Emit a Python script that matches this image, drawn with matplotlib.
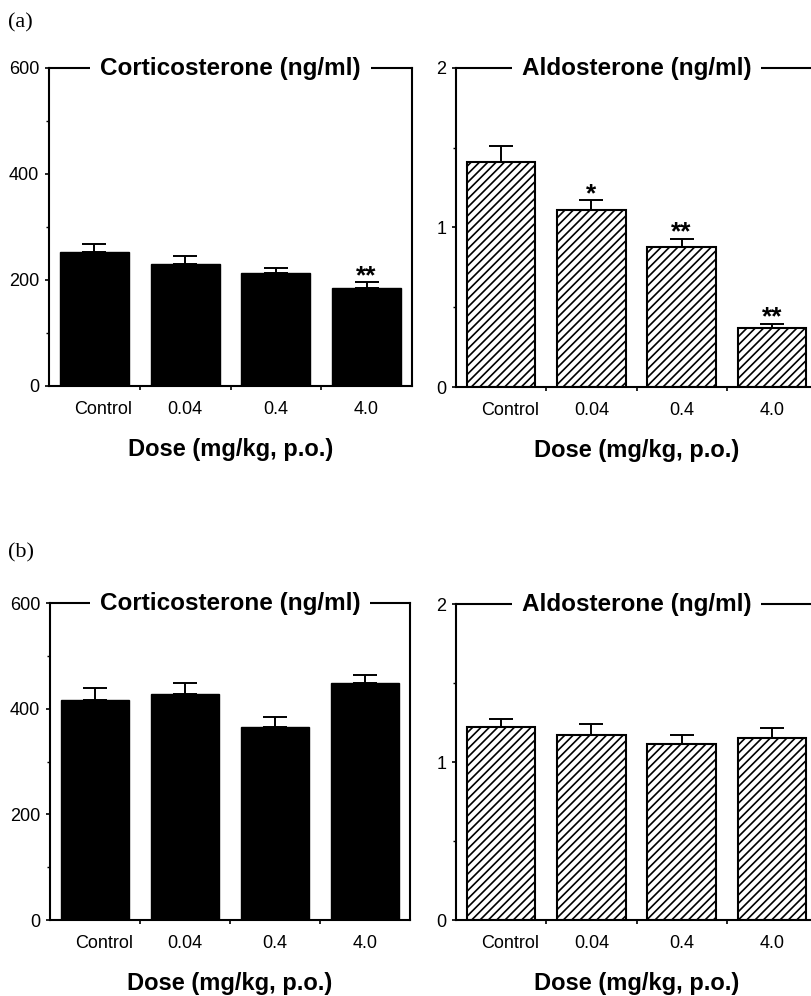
import matplotlib
matplotlib.use("Agg")
import matplotlib.pyplot as plt
from matplotlib.ticker import MultipleLocator

plt.rcParams["font.family"] = ["Liberation Sans", "DejaVu Sans"]
plt.rcParams["hatch.linewidth"] = 1.2

doses = ["Control", "0.04", "0.4", "4.0"]

# panel (a)
cort_a = [253, 231, 214, 184]
cort_a_err = [14, 14, 8, 12]
cort_a_sig = ["", "", "", "**"]
aldo_a = [1.41, 1.11, 0.88, 0.37]
aldo_a_err = [0.10, 0.06, 0.05, 0.025]
aldo_a_sig = ["", "*", "**", "**"]

# panel (b)
cort_b = [416, 428, 366, 449]
cort_b_err = [23, 20, 18, 15]
aldo_b = [1.22, 1.17, 1.115, 1.15]
aldo_b_err = [0.055, 0.07, 0.055, 0.063]

W, H = 811, 996
fig = plt.figure(figsize=(W / 100, H / 100), dpi=100)


def box(x0, y0, x1, y1):
    # pixel box (top-left origin) -> figure fraction rect
    return [x0 / W, 1 - y1 / H, (x1 - x0) / W, (y1 - y0) / H]


def panel(rect, vals, errs, sig, title, ymax, major, minor, hatched):
    ax = fig.add_axes(rect)
    x = list(range(len(vals)))
    if hatched:
        ax.bar(x, vals, width=0.76, color="white", edgecolor="black",
               linewidth=1.5, hatch="////", zorder=2)
    else:
        ax.bar(x, vals, width=0.76, color="black", edgecolor="black",
               linewidth=1.0, zorder=2)
    ax.errorbar(x, vals, yerr=[[0] * len(errs), errs], fmt="none",
                ecolor="black", elinewidth=1.4, capsize=8.5, capthick=1.4, zorder=1)
    for i, s in enumerate(sig):
        if s:
            # asterisks sit high in the em box, so pull the baseline down a bit
            ax.annotate(s, (i, vals[i] + errs[i]), xytext=(0, -0.5),
                        textcoords="offset points", ha="center", va="baseline",
                        fontsize=19, fontweight="bold")
    ax.set_xlim(-0.5, len(vals) - 0.5)
    ax.set_ylim(0, ymax)
    ax.yaxis.set_major_locator(MultipleLocator(major))
    ax.yaxis.set_minor_locator(MultipleLocator(minor))
    ax.yaxis.set_major_formatter(plt.FuncFormatter(lambda v, p: f"{v:g}"))
    ax.set_xticks([0.5, 1.5, 2.5])
    ax.set_xticklabels([])
    # the "Control" label sits a little right of its bar in the original
    label_pos = [i + (0.1 if i == 0 else 0) for i in x]
    ax.set_xticks(label_pos, minor=True)
    ax.set_xticklabels(doses, minor=True, fontsize=13)
    ax.tick_params(axis="x", which="minor", length=0, pad=11)
    ax.tick_params(axis="x", which="major", length=3, width=1.2, direction="out")
    ax.tick_params(axis="y", which="major", length=3, width=1.2, labelsize=13, pad=4)
    ax.tick_params(axis="y", which="minor", length=2, width=1.0)
    for sp in ax.spines.values():
        sp.set_linewidth(1.5)
    ax.text(0.5, 1.0, title, transform=ax.transAxes, ha="center", va="center",
            fontsize=17.5, fontweight="bold", zorder=10, clip_on=False,
            bbox=dict(facecolor="white", edgecolor="none", pad=7))
    ax.set_xlabel("Dose (mg/kg, p.o.)", fontsize=17, fontweight="bold", labelpad=14)
    return ax


panel(box(49, 68, 412, 386), cort_a, cort_a_err, cort_a_sig,
      "Corticosterone (ng/ml)", 600, 200, 100, False)
panel(box(456, 68, 817, 387), aldo_a, aldo_a_err, aldo_a_sig,
      "Aldosterone (ng/ml)", 2, 1, 0.5, True)
panel(box(50, 603, 410, 920), cort_b, cort_b_err, [""] * 4,
      "Corticosterone (ng/ml)", 600, 200, 100, False)
panel(box(456, 604, 817, 920), aldo_b, aldo_b_err, [""] * 4,
      "Aldosterone (ng/ml)", 2, 1, 0.5, True)

fig.text(8 / W, 1 - 23 / H, "(a)", family=["Liberation Serif", "DejaVu Serif"],
         fontsize=16, ha="left", va="center")
fig.text(8 / W, 1 - 553 / H, "(b)", family=["Liberation Serif", "DejaVu Serif"],
         fontsize=16, ha="left", va="center")

fig.savefig("out.png", dpi=100)
